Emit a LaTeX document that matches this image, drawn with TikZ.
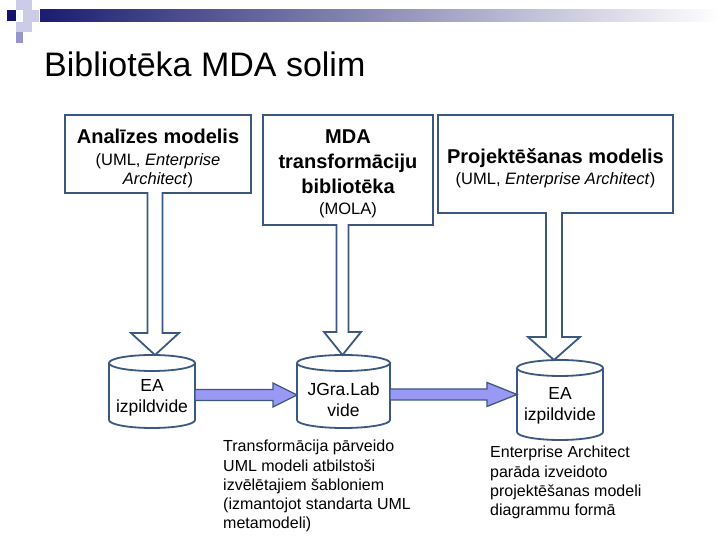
\documentclass[tikz,border=0pt]{standalone}
\usepackage{fontspec}
\setmainfont{Liberation Sans}
\usetikzlibrary{calc}
\definecolor{edge}{RGB}{59,89,128}
\definecolor{arrowfill}{RGB}{153,153,245}
\definecolor{navy}{RGB}{28,28,112}
\definecolor{sqlight}{RGB}{204,204,232}
\definecolor{sqmid}{RGB}{150,150,204}
\definecolor{sqdark}{RGB}{20,20,110}
\newcommand\hdfont{\fontsize{20}{19}\selectfont\bfseries}
\newcommand\calloutpath[6]{% box, target, stem x, stem half, head half, head length
  \pgfmathsetmacro\stemL{#3-#4}\pgfmathsetmacro\stemR{#3+#4}%
  \pgfmathsetmacro\headL{#3-#5}\pgfmathsetmacro\headR{#3+#5}%
  \draw[outline] let \p1=(#1.south), \p2=(#2.north) in
    (#1.south west) -- (#1.north west) -- (#1.north east) -- (#1.south east)
    -- (\stemR pt,\y1) -- (\stemR pt,\y2+#6pt) -- (\headR pt,\y2+#6pt) -- (#3pt,\y2)
    -- (\headL pt,\y2+#6pt) -- (\stemL pt,\y2+#6pt) -- (\stemL pt,\y1) -- cycle;
}
\newcommand\cylinderoutline[2]{% name, half width
  \draw[outline] ([yshift=-8pt]#1.north) ellipse [x radius=#2, y radius=8];
  \draw[outline] ([yshift=-8pt]#1.north west) -- ([yshift=8pt]#1.south west)
    arc[start angle=180, end angle=360, x radius=#2, y radius=8] -- ([yshift=-8pt]#1.north east);
}
\newcommand\fatarrowpath[3]{% start, end, head length
  \draw[fatarrow] let \p1=(#1), \p2=(#2) in
    (\x1,\y1+5.5pt) -- (\x2-#3pt,\y1+5.5pt) -- (\x2-#3pt,\y1+12pt) -- (\x2,\y1)
    -- (\x2-#3pt,\y1-12pt) -- (\x2-#3pt,\y1-5.5pt) -- (\x1,\y1-5.5pt) -- cycle;
}
\begin{document}
\begin{tikzpicture}[x=1pt,y=1pt,
  outline/.style={draw=edge, line width=1.8pt, line join=miter},
  fatarrow/.style={draw=edge, line width=1.3pt, fill=arrowfill, line join=miter},
  boxnode/.style={inner sep=0pt, outer sep=0pt, align=center, font=\fontsize{16.5}{19}\selectfont},
  cylbox/.style={inner sep=0pt, outer sep=0pt, minimum height=73pt},
  cyltext/.style={inner sep=0pt, align=center, font=\fontsize{17.5}{21}\selectfont},
  note/.style={inner sep=0pt, anchor=north west, align=left, font=\fontsize{16}{19.3}\selectfont},
  titletext/.style={inner sep=0pt, anchor=base west, font=\fontsize{34}{40}\selectfont}]
\useasboundingbox (0,0) rectangle (720,540);
\fill[white] (0,0) rectangle (720,540);
% header decoration
\shade[left color=navy, right color=white] (40,518) rectangle (720,530);
\fill[sqlight] (16,530) rectangle (32,540);
\fill[sqlight] (23,518) rectangle (39,530);
\fill[sqdark] (7,519) rectangle (16,530);
\fill[sqlight] (16,508) rectangle (32,518);
\fill[sqmid] (16,497) rectangle (23,508);
% title
\node[titletext] (title) at (44,463) {Bibliotēka MDA solim};
% cylinders
\node[cylbox, minimum width=86pt] (c1) at (152,148.5) {};
\node[cylbox, minimum width=93pt] (c2) at (343.5,148.5) {};
\node[cylbox, minimum width=86pt, minimum height=80pt] (c3) at (560,140) {};
\cylinderoutline{c1}{43}
\cylinderoutline{c2}{46.5}
\cylinderoutline{c3}{43}
\node[cyltext] (c1t) at ([yshift=-6pt]c1.center) {EA\\izpildvide};
\node[cyltext] (c2t) at ([yshift=-8.5pt]c2.center) {JGra.Lab\\vide};
\node[cyltext] (c3t) at ([yshift=-6pt]c3.center) {EA\\izpildvide};
% callout boxes
\node[boxnode, minimum width=186pt, minimum height=78pt] (b1) at (158,386)
  {{\hdfont\rule{0pt}{23pt}Analīzes modelis}\\[3pt](UML, \textit{Enterprise}\\\textit{Architect})};
\node[boxnode, minimum width=170pt, minimum height=110pt] (b2) at (348,370)
  {{\hdfont\rule{0pt}{21.5pt}MDA}\\[6pt]{\hdfont transformāciju}\\[6pt]{\hdfont bibliotēka}\\[1.5pt](MOLA)};
\node[boxnode, minimum width=235pt, minimum height=98pt] (b3) at (555.5,376)
  {{\hdfont\rule{0pt}{23pt}Projektēšanas modelis}\\[2pt](UML, \textit{Enterprise Architect})};
\calloutpath{b1}{c1}{155}{7.5}{24}{22}
\calloutpath{b2}{c2}{342.5}{6}{18.5}{23}
\calloutpath{b3}{c3}{554}{8}{26}{23}
% fat arrows
\fatarrowpath{[yshift=-3.5pt]c1.east}{c2.west}{24}
\fatarrowpath{[yshift=-3pt]c2.east}{c3.west}{30}
% notes
\node[note] (n1) at (223,100) {Transformācija pārveido\\UML modeli atbilstoši\\izvēlētajiem šabloniem\\(izmantojot standarta UML\\metamodeli)};
\node[note] (n2) at (490,94) {Enterprise Architect\\parāda izveidoto\\projektēšanas modeli\\diagrammu formā};
\end{tikzpicture}
\end{document}
